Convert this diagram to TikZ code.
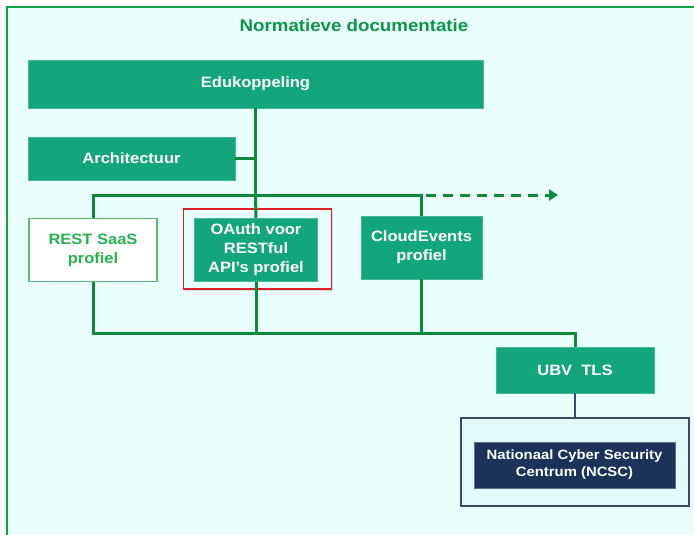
\documentclass[tikz,border=0pt]{standalone}
\usepackage{fontspec}
\setmainfont{Liberation Sans}[FakeStretch=1.1]
\usetikzlibrary{arrows.meta,shadows}
\definecolor{boxteal}{RGB}{19,166,125}
\definecolor{linegreen}{RGB}{11,138,58}
\definecolor{titlegreen}{RGB}{14,150,70}
\definecolor{bgcyan}{RGB}{234,254,254}
\definecolor{framegreen}{RGB}{20,160,70}
\definecolor{restgreen}{RGB}{40,178,80}
\definecolor{ncscnavy}{RGB}{27,51,88}
\definecolor{outerfill}{RGB}{225,250,252}
\definecolor{outerline}{RGB}{55,75,105}
\definecolor{redframe}{RGB}{225,30,40}
\tikzset{
  tealbox/.style={rectangle, fill=boxteal, draw=boxteal!80!white, line width=0.6pt, text=white, font=\bfseries\fontsize{15}{19}\selectfont, align=center, inner sep=0pt},
  whitebox/.style={rectangle, fill=white, draw=restgreen!80!white, line width=1.4pt, text=restgreen, font=\bfseries\fontsize{15}{19}\selectfont, align=center, inner sep=0pt},
  navybox/.style={rectangle, fill=ncscnavy, draw=ncscnavy!70!white, line width=0.6pt, text=white, font=\bfseries\fontsize{13.5}{17}\selectfont, align=center, inner sep=0pt},
  gline/.style={draw=linegreen, line width=3pt},
  nline/.style={draw=outerline, line width=2pt},
}
\begin{document}
\begin{tikzpicture}[x=1pt,y=-1pt]
\useasboundingbox (0,0) rectangle (694,535);
\fill[white] (0,0) rectangle (694,535);
\draw[draw=framegreen, line width=2pt, fill=bgcyan] (7,7) rectangle (704,545);
\node[text=titlegreen, font=\bfseries\fontsize{17}{19}\selectfont] (title) at (354,25) {Normatieve documentatie};
% boxes
\node[tealbox, minimum width=455pt, minimum height=48pt] (edu) at (255.5,84) {Edukoppeling};
\node[tealbox, minimum width=207pt, minimum height=43pt] (arch) at (131.5,158.5) {Architectuur};
\node[whitebox, minimum width=128pt, minimum height=63pt] (rest) at (93,250) {REST SaaS\\profiel};
\node[draw=redframe, line width=1.2pt, fill=bgcyan, drop shadow={shadow xshift=1.5pt, shadow yshift=-1.5pt, opacity=0.25}, minimum width=148pt, minimum height=80pt, inner sep=0pt] (red) at (257.5,249) {};
\node[tealbox, minimum width=123pt, minimum height=63pt] (oauth) at (256,250) {OAuth voor\\RESTful\\API’s profiel};
\node[tealbox, minimum width=121pt, minimum height=63pt] (ce) at (421.5,247.5) {CloudEvents\\profiel};
\node[tealbox, minimum width=158pt, minimum height=46pt] (ubv) at (575,370) {UBV\ \ TLS};
\node[rectangle, fill=outerfill, draw=outerline, line width=1.4pt, minimum width=228pt, minimum height=88pt, inner sep=0pt] (outer) at (575,462) {};
\node[navybox, minimum width=201pt, minimum height=46pt] (ncsc) at (574.5,465) {Nationaal Cyber Security\\Centrum (NCSC)};
% connectors
\coordinate (tb) at (255.5,195);
\coordinate (bb) at (256,333);
\coordinate (arrowend) at (558,195);
\draw[gline] (edu.south) -- (tb);
\draw[gline] (arch.east) -- (arch.east -| edu.south);
\draw[gline] (rest.north) |- (tb);
\draw[gline] (ce.north) |- (tb);
\draw[gline] (tb) -- (oauth.north);
\draw[draw=linegreen, line width=3pt, dash pattern=on 10pt off 7pt, -{Triangle[length=9pt,width=11pt]}] ([xshift=4pt]ce.north |- tb) -- (arrowend);
\draw[gline] (rest.south) -- (rest.south |- bb) -| (ubv.north);
\draw[gline] (oauth.south) -- (oauth.south |- bb);
\draw[gline] (ce.south) -- (ce.south |- bb);
\draw[nline] (ubv.south) -- (outer.north);
\end{tikzpicture}
\end{document}
